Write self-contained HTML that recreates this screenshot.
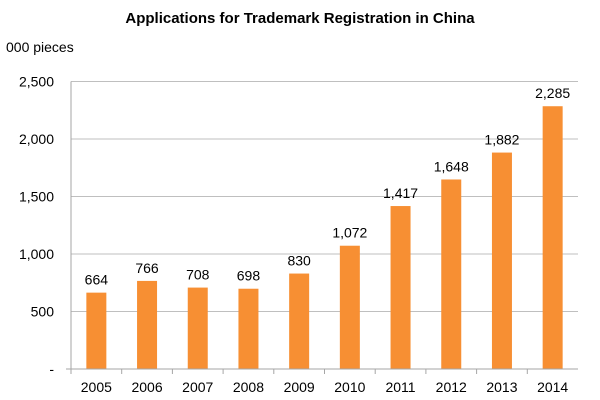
<!DOCTYPE html>
<html><head><meta charset="utf-8"><style>
body{margin:0;background:#fff;}
svg{display:block;font-family:"Liberation Sans",Arial,sans-serif;}
</style></head><body>
<svg id="chart" width="600" height="400">
<text x="300" y="23" text-anchor="middle" font-size="15" font-weight="bold" fill="#000">Applications for Trademark Registration in China</text>
<text x="6" y="52" font-size="14" fill="#000">000 pieces</text>
<g id="grid"></g><g id="bars"></g><g id="axes"></g>
</svg>
<script>
const categories=["2005","2006","2007","2008","2009","2010","2011","2012","2013","2014"];
const values=[664,766,708,698,830,1072,1417,1648,1882,2285];
const valueLabels=["664","766","708","698","830","1,072","1,417","1,648","1,882","2,285"];
const yTicks=[0,500,1000,1500,2000,2500];
const yTickLabels=["-","500","1,000","1,500","2,000","2,500"];
const NS="http://www.w3.org/2000/svg";
const x0=71,x1=578,yBase=369,yMax=2500,yTop=81.5;
const band=(x1-x0)/categories.length;
function y(v){return yBase-(v/yMax)*(yBase-yTop);}
function xc(i){return x0+band*(i+0.5);}
function mk(tag,attrs,parent){const e=document.createElementNS(NS,tag);for(const k in attrs)e.setAttribute(k,attrs[k]);parent.appendChild(e);return e;}
const grid=document.getElementById('grid'),bars=document.getElementById('bars'),axes=document.getElementById('axes');
yTicks.forEach((t,i)=>{
 if(t>0){const l=mk('line',{x1:x0,x2:x1,y1:y(t),y2:y(t),stroke:'#bfbfbf','stroke-width':1},grid);
 
 }
 const tx=mk('text',{x:54,y:y(t)+5,'text-anchor':'end','font-size':14,fill:'#000'},axes);
 tx.textContent=yTickLabels[i];
 
 
});
const ya=mk('line',{x1:x0,x2:x0,y1:yTop,y2:yBase,stroke:'#a6a6a6'},axes);


const xa=mk('line',{x1:x0-5,x2:x1,y1:yBase,y2:yBase,stroke:'#a6a6a6'},axes);


categories.forEach((c,i)=>{
 const tk=mk('line',{x1:x0+band*i,x2:x0+band*i,y1:yBase,y2:yBase+5,stroke:'#a6a6a6'},axes);
 
 
 const bw=20;
 const r=mk('rect',{x:xc(i)-bw/2,y:y(values[i]),width:bw,height:yBase-y(values[i]),fill:'#f78f33'},bars);
 
 
 const vl=mk('text',{x:xc(i),y:y(values[i])-8,'text-anchor':'middle','font-size':14,fill:'#000'},bars);
 vl.textContent=valueLabels[i];
 
 
 const xl=mk('text',{x:xc(i),y:392,'text-anchor':'middle','font-size':14,fill:'#000'},axes);
 xl.textContent=c;
 
 
});
</script>
</body></html>
